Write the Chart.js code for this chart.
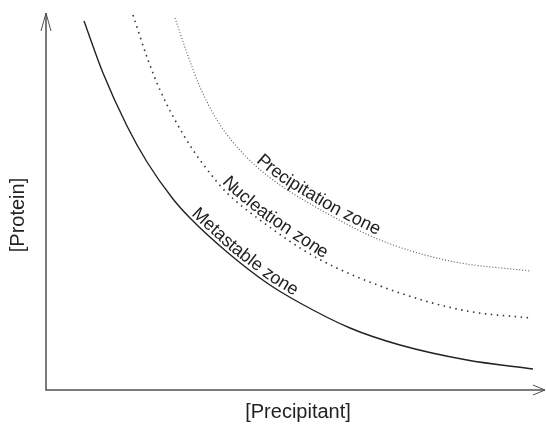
<!DOCTYPE html>
<html>
<head>
<meta charset="utf-8">
<script src="https://cdn.jsdelivr.net/npm/chart.js@4.4.1/dist/chart.umd.min.js"></script>
<style>
  html, body { margin: 0; padding: 0; background: #fff; }
  #wrap { width: 546px; height: 424px; position: relative; }
</style>
</head>
<body>
<div id="wrap"><canvas id="phase"></canvas></div>
<script>
// values, in axis units (x: 0..499, y: 0..377)
const metastableX = [38, 57, 81, 101, 127, 144, 181, 221, 254, 304, 354, 421, 487];
const metastableY = [369, 317, 264, 228, 191, 172, 138, 107, 87, 62, 45, 30, 21];
const nucleationX = [87, 102, 114, 129, 147, 167, 181, 214, 271, 354, 421, 484];
const nucleationY = [375, 330, 300, 270, 240, 213, 197, 170, 132, 97, 79, 72];
const precipX = [129, 141, 154, 171, 191, 211, 234, 284, 334, 404, 484];
const precipY = [372, 337, 303, 270, 243, 223, 205, 175, 150, 129, 119];

const AXIS_TITLE_X = "[Precipitant]";
const AXIS_TITLE_Y = "[Protein]";
const ZONE_LABELS = [
  { text: "Metastable zone", dataset: 0, start: 224, offset: 3 },
  { text: "Nucleation zone", dataset: 1, start: 192, offset: 3 },
  { text: "Precipitation zone", dataset: 2, start: 168, offset: 3 },
];

const toPoints = (xs, ys) => xs.map((x, i) => ({ x, y: ys[i] }));

// axis lines with arrow heads, and the two axis titles
const axesPlugin = {
  id: "axesArrows",
  afterDraw(chart) {
    const { ctx, chartArea: a } = chart;
    ctx.save();
    ctx.strokeStyle = "#505050";
    ctx.lineWidth = 1.5;
    ctx.beginPath();
    ctx.moveTo(a.left, a.top);
    ctx.lineTo(a.left, a.bottom);
    ctx.lineTo(a.right, a.bottom);
    ctx.stroke();
    ctx.lineWidth = 1;
    ctx.beginPath();
    ctx.moveTo(a.left - 5, a.top + 18);
    ctx.lineTo(a.left, a.top);
    ctx.lineTo(a.left + 5, a.top + 18);
    ctx.moveTo(a.right - 12, a.bottom - 5);
    ctx.lineTo(a.right, a.bottom);
    ctx.lineTo(a.right - 12, a.bottom + 5);
    ctx.stroke();

    ctx.fillStyle = "#222";
    ctx.font = "20px 'Liberation Sans', Arial, sans-serif";
    ctx.textAlign = "center";
    ctx.textBaseline = "middle";
    ctx.fillText(AXIS_TITLE_X, 298, a.bottom + 22);
    ctx.translate(18, 215);
    ctx.rotate(-Math.PI / 2);
    ctx.fillText(AXIS_TITLE_Y, 0, 0);
    ctx.restore();
  },
};

// zone names written along their curves, letter by letter
const curveTextPlugin = {
  id: "curveText",
  afterDatasetsDraw(chart) {
    const { ctx } = chart;
    ctx.save();
    ctx.fillStyle = "#222";
    ctx.font = "18px 'Liberation Sans', Arial, sans-serif";
    ctx.textBaseline = "alphabetic";
    ZONE_LABELS.forEach((lbl) => {
      const pts = chart.getDatasetMeta(lbl.dataset).data.map((p) => ({ x: p.x, y: p.y }));
      const dense = [];
      for (let i = 0; i < pts.length - 1; i++) {
        for (let s = 0; s < 20; s++) {
          const t = s / 20;
          dense.push({ x: pts[i].x + (pts[i + 1].x - pts[i].x) * t, y: pts[i].y + (pts[i + 1].y - pts[i].y) * t });
        }
      }
      dense.push(pts[pts.length - 1]);
      const cum = [0];
      for (let i = 1; i < dense.length; i++) {
        cum.push(cum[i - 1] + Math.hypot(dense[i].x - dense[i - 1].x, dense[i].y - dense[i - 1].y));
      }
      const pointAt = (d) => {
        let i = 1;
        while (i < cum.length - 1 && cum[i] < d) i++;
        const t = (d - cum[i - 1]) / (cum[i] - cum[i - 1] || 1);
        const p0 = dense[i - 1], p1 = dense[i];
        return { x: p0.x + (p1.x - p0.x) * t, y: p0.y + (p1.y - p0.y) * t };
      };
      let d = lbl.start;
      for (const ch of lbl.text) {
        const w = ctx.measureText(ch).width;
        const p = pointAt(d + w / 2);
        const q0 = pointAt(d + w / 2 - 8), q1 = pointAt(d + w / 2 + 8);
        const ang = Math.atan2(q1.y - q0.y, q1.x - q0.x);
        ctx.save();
        ctx.translate(p.x + Math.sin(ang) * lbl.offset, p.y - Math.cos(ang) * lbl.offset);
        ctx.rotate(ang);
        ctx.fillText(ch, -w / 2, 0);
        ctx.restore();
        d += w;
      }
    });
    ctx.restore();
  },
};

new Chart(document.getElementById("phase"), {
  type: "scatter",
  data: {
    datasets: [
      {
        label: "Metastable",
        data: toPoints(metastableX, metastableY),
        showLine: true,
        borderColor: "#222",
        borderWidth: 1.4,
        pointRadius: 0,
        cubicInterpolationMode: "monotone",
      },
      {
        label: "Nucleation",
        data: toPoints(nucleationX, nucleationY),
        showLine: true,
        borderColor: "#333",
        borderWidth: 1.6,
        borderDash: [1.5, 4.5],
        pointRadius: 0,
        cubicInterpolationMode: "monotone",
      },
      {
        label: "Precipitation",
        data: toPoints(precipX, precipY),
        showLine: true,
        borderColor: "#555",
        borderWidth: 1.1,
        borderDash: [1, 2],
        pointRadius: 0,
        cubicInterpolationMode: "monotone",
      },
    ],
  },
  options: {
    responsive: true,
    maintainAspectRatio: false,
    animation: false,
    layout: { padding: { left: 46, right: 1, top: 13, bottom: 34 } },
    plugins: { legend: { display: false }, tooltip: { enabled: false } },
    scales: {
      x: { type: "linear", min: 0, max: 499, display: false },
      y: { type: "linear", min: 0, max: 377, display: false },
    },
  },
  plugins: [axesPlugin, curveTextPlugin],
});
</script>
</body>
</html>
